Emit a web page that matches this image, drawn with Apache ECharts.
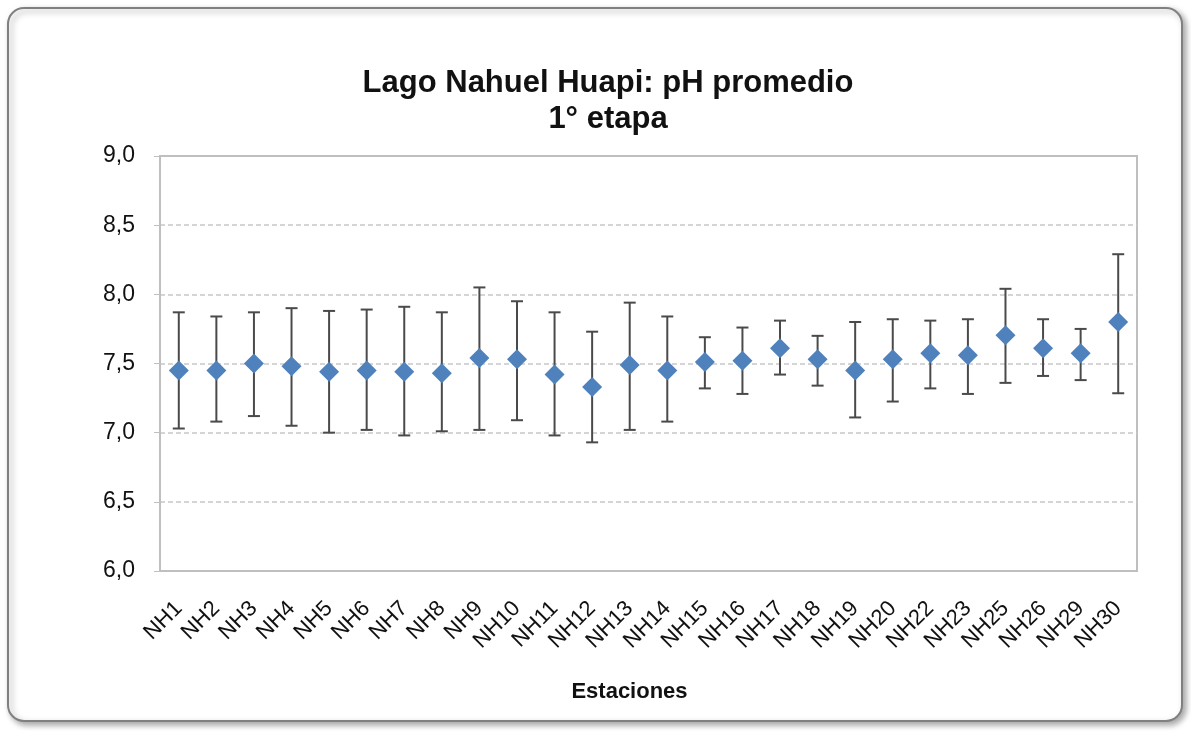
<!DOCTYPE html>
<html>
<head>
<meta charset="utf-8">
<script src="https://cdn.jsdelivr.net/npm/echarts@6/dist/echarts.min.js"></script>
<style>
  html, body { margin: 0; padding: 0; background: #fff; }
  #grafico { width: 1191px; height: 731px; }
</style>
</head>
<body>
<div id="grafico"></div>
<script>
// Datos
var estaciones = ['NH1', 'NH2', 'NH3', 'NH4', 'NH5', 'NH6', 'NH7', 'NH8', 'NH9', 'NH10',
    'NH11', 'NH12', 'NH13', 'NH14', 'NH15', 'NH16', 'NH17', 'NH18', 'NH19', 'NH20',
    'NH22', 'NH23', 'NH25', 'NH26', 'NH29', 'NH30'];
var phPromedio = [7.45, 7.45, 7.50, 7.48, 7.44, 7.45, 7.44, 7.43, 7.54, 7.53,
    7.42, 7.33, 7.49, 7.45, 7.51, 7.52, 7.61, 7.53, 7.45, 7.53,
    7.575, 7.56, 7.705, 7.61, 7.575, 7.80];
var phMinimo = [7.03, 7.08, 7.12, 7.05, 7.00, 7.02, 6.98, 7.01, 7.02, 7.09,
    6.98, 6.93, 7.02, 7.08, 7.32, 7.28, 7.42, 7.34, 7.11, 7.225,
    7.32, 7.28, 7.36, 7.41, 7.38, 7.285];
var phMaximo = [7.87, 7.84, 7.87, 7.90, 7.88, 7.89, 7.91, 7.87, 8.05, 7.95,
    7.87, 7.73, 7.94, 7.84, 7.69, 7.76, 7.81, 7.70, 7.80, 7.82,
    7.81, 7.82, 8.04, 7.82, 7.75, 8.29];

var fuente = '"Liberation Sans", Arial, sans-serif';

// barras de error (linea vertical + topes)
function dibujarError(params, api) {
    var i = api.value(0);
    var bajo = api.coord([i, api.value(1)]);
    var alto = api.coord([i, api.value(2)]);
    var m = 6;
    var estilo = { stroke: '#4a4a4a', lineWidth: 2 };
    return {
        type: 'group',
        children: [
            { type: 'line', shape: { x1: bajo[0], y1: bajo[1], x2: alto[0], y2: alto[1] }, style: estilo },
            { type: 'line', shape: { x1: alto[0] - m, y1: alto[1], x2: alto[0] + m, y2: alto[1] }, style: estilo },
            { type: 'line', shape: { x1: bajo[0] - m, y1: bajo[1], x2: bajo[0] + m, y2: bajo[1] }, style: estilo }
        ]
    };
}

var chartDom = document.getElementById('grafico');
var myChart = echarts.init(chartDom);
var option = {
    animation: false,
    graphic: [{
        type: 'rect',
        z: -10,
        shape: { x: 8, y: 8, width: 1174, height: 713, r: 16 },
        style: {
            fill: '#fff',
            stroke: '#808080',
            lineWidth: 2,
            shadowBlur: 6,
            shadowOffsetX: 3,
            shadowOffsetY: 3,
            shadowColor: 'rgba(0,0,0,0.35)'
        }
    }],
    title: {
        text: 'Lago Nahuel Huapi: pH promedio\n1° etapa',
        left: 603,
        top: 60,
        textAlign: 'center',
        textStyle: {
            fontFamily: fuente,
            fontSize: 31,
            fontWeight: 'bold',
            color: '#111',
            lineHeight: 36
        }
    },
    grid: {
        left: 160,
        right: 54,
        top: 156,
        bottom: 160,
        show: true,
        borderColor: '#bfbfbf',
        borderWidth: 2
    },
    xAxis: {
        type: 'category',
        data: estaciones,
        boundaryGap: true,
        name: 'Estaciones',
        nameLocation: 'middle',
        nameGap: 110,
        nameTextStyle: { fontFamily: fuente, fontSize: 22, fontWeight: 'bold', color: '#111', padding: [0, 38, 0, 0] },
        axisLine: { lineStyle: { color: '#bfbfbf', width: 2 } },
        axisTick: { inside: true, length: 5, lineStyle: { color: '#bfbfbf' } },
        axisLabel: {
            rotate: 45,
            interval: 0,
            margin: 34,
            fontFamily: fuente,
            fontSize: 22,
            color: '#111'
        }
    },
    yAxis: {
        type: 'value',
        min: 6,
        max: 9,
        interval: 0.5,
        axisLine: { show: true, lineStyle: { color: '#bfbfbf', width: 2 } },
        axisTick: { show: true, length: 6, lineStyle: { color: '#bfbfbf' } },
        axisLabel: {
            margin: 25,
            fontFamily: fuente,
            fontSize: 23,
            color: '#111',
            formatter: function (v) { return v.toFixed(1).replace('.', ','); }
        },
        splitLine: {
            show: true,
            showMinLine: false,
            showMaxLine: false,
            lineStyle: { color: '#c8c8c8', type: [5, 3], width: 1.5 }
        }
    },
    series: [
        {
            name: 'Desvío',
            type: 'custom',
            renderItem: dibujarError,
            encode: { x: 0, y: [1, 2] },
            data: estaciones.map(function (e, i) { return [i, phMinimo[i], phMaximo[i]]; }),
            z: 3
        },
        {
            name: 'pH promedio',
            type: 'scatter',
            symbol: 'diamond',
            symbolSize: [20, 20],
            itemStyle: { color: '#4F81BD', opacity: 1 },
            data: phPromedio,
            z: 5
        }
    ]
};

option && myChart.setOption(option);
</script>
</body>
</html>
